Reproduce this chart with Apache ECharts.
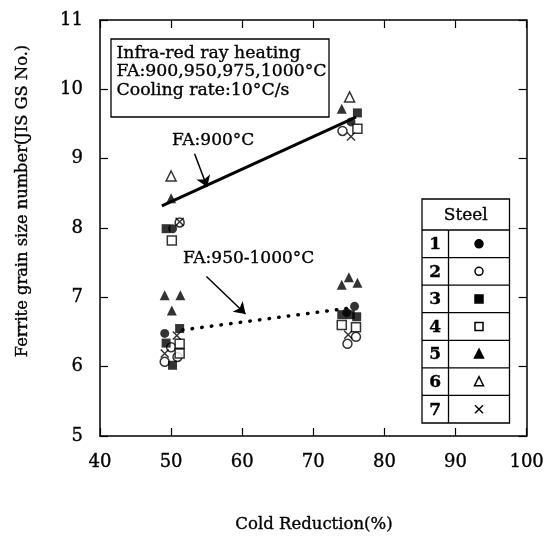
<!DOCTYPE html>
<html><head><meta charset="utf-8">
<script src="https://cdn.jsdelivr.net/npm/echarts@6/dist/echarts.min.js"></script>
<style>html,body{margin:0;padding:0;background:#fff}#c{width:547px;height:538px}</style>
</head><body><div id="c"></div>
<script>
// ---- data ----
var xTicks = [40, 50, 60, 70, 80, 90, 100];
var yTicks = [5, 6, 7, 8, 9, 10, 11];
var steelNames = ['1', '2', '3', '4', '5', '6', '7'];
var steel1 = [[50.2, 7.99], [75.3, 9.53], [49.1, 6.48], [75.8, 6.87], [74.7, 6.78]];
var steel2 = [[51.2, 8.08], [74.1, 9.40], [49.1, 6.07], [50.9, 6.14], [50.0, 6.28], [76.0, 6.43], [74.8, 6.33]];
var steel3 = [[49.3, 7.99], [76.2, 9.66], [51.2, 6.55], [49.3, 6.34], [50.2, 6.02], [74.0, 6.75], [75.2, 6.75], [76.1, 6.72]];
var steel4 = [[50.1, 7.82], [76.2, 9.43], [51.2, 6.33], [51.2, 6.19], [74.0, 6.60], [76.0, 6.57]];
var steel5 = [[50.0, 8.43], [74.0, 9.72], [49.1, 7.03], [51.3, 7.03], [50.1, 6.81], [74.0, 7.18], [75.0, 7.29], [76.2, 7.21]];
var steel6 = [[50.0, 8.75], [75.1, 9.89]];
var steel7 = [[51.2, 8.09], [75.3, 9.32], [49.1, 6.19], [50.8, 6.45], [74.9, 6.46]];
var fit900 = [[48.7, 8.32], [76.0, 9.60]];
var fit950 = [[51.6, 6.53], [75.5, 6.85]];
var arrow900 = [[53.3, 9.07], [55.07, 8.59]];
var arrow950 = [[54.97, 7.30], [60.47, 6.76]];
var boxLines = ['Infra-red ray heating', 'FA:900,950,975,1000°C', 'Cooling rate:10°C/s'];
var label900 = 'FA:900°C';
var label950 = 'FA:950-1000°C';
var xName = 'Cold Reduction(%)';
var yName = 'Ferrite grain size number(JIS GS No.)';

// ---- styles ----
var FONT = 'DejaVu Serif';
var THICK = 0.35;
var XPATH = 'path://M0,0L10,10M10,0L0,10';
var styles = [
  {symbol: 'circle', size: 9, fill: '#000'},
  {symbol: 'circle', size: 9, fill: '#fff'},
  {symbol: 'rect', size: 9, fill: '#000'},
  {symbol: 'rect', size: 9, fill: '#fff'},
  {symbol: 'triangle', size: 10, fill: '#000'},
  {symbol: 'triangle', size: 10, fill: '#fff'},
  {symbol: XPATH, size: 8, fill: 'none'}
];
var steelData = [steel1, steel2, steel3, steel4, steel5, steel6, steel7];

var chart = echarts.init(document.getElementById('c'), null, {renderer: 'canvas'});

var axisCommon = {
  axisLine: {show: true, lineStyle: {color: '#000', width: 1.5}},
  axisTick: {show: true, inside: true, length: 8, lineStyle: {color: '#000', width: 1.2}},
  splitLine: {show: false}
};
var labelCommon = {color: '#000', fontFamily: FONT, fontSize: 18, textBorderColor: '#000', textBorderWidth: THICK};

var series = [];
series.push({type: 'line', data: fit900, showSymbol: false, symbol: 'none', silent: true, z: 1,
  lineStyle: {color: '#000', width: 3}});
series.push({type: 'line', data: fit950, showSymbol: false, symbol: 'none', silent: true, z: 1,
  lineStyle: {color: '#000', width: 3.5, type: [0.5, 9.2], cap: 'round'}});
series.push({type: 'lines', coordinateSystem: 'cartesian2d', z: 1, silent: true,
  symbol: ['none', 'arrow'], symbolSize: 11,
  lineStyle: {color: '#000', width: 1.5, opacity: 1},
  data: [{coords: arrow900}, {coords: arrow950}]});
steelData.forEach(function (d, i) {
  var s = styles[i];
  series.push({type: 'scatter', name: steelNames[i], data: d, symbol: s.symbol, symbolSize: s.size, z: 3,
    itemStyle: {color: s.fill, borderColor: '#000', borderWidth: (s.fill === '#000' ? 0 : 1.5)}});
});

function txt(x, y, t, size, align, extra) {
  var o = {type: 'text', x: x, y: y, z: 11,
    style: {text: t, font: (extra && extra.bold ? 'bold ' : '') + size + 'px "' + FONT + '"', fill: '#000',
      align: align, verticalAlign: 'middle', stroke: '#000', lineWidth: THICK}};
  if (extra && extra.rotation) o.rotation = extra.rotation;
  return o;
}

// legend table graphic
var LX0 = 422, LX1 = 509.5, LXD = 448.5, LY0 = 199, LYH = 230, LY1 = 423;
var rowH = (LY1 - LYH) / steelNames.length;
var g = [];
g.push({type: 'rect', shape: {x: LX0, y: LY0, width: LX1 - LX0, height: LY1 - LY0},
  style: {fill: '#fff', stroke: '#000', lineWidth: 1.3}, z: 10});
g.push({type: 'line', shape: {x1: LX0, y1: LYH, x2: LX1, y2: LYH}, style: {stroke: '#000', lineWidth: 1.3}, z: 11});
g.push({type: 'line', shape: {x1: LXD, y1: LYH, x2: LXD, y2: LY1}, style: {stroke: '#000', lineWidth: 1.3}, z: 11});
g.push(txt((LX0 + LX1) / 2, (LY0 + LYH) / 2 + 1, 'Steel', 17, 'center'));
steelNames.forEach(function (n, i) {
  var yc = LYH + rowH * (i + 0.5);
  if (i > 0) g.push({type: 'line', shape: {x1: LX0, y1: LYH + rowH * i, x2: LX1, y2: LYH + rowH * i},
    style: {stroke: '#000', lineWidth: 1.3}, z: 11});
  g.push(txt((LX0 + LXD) / 2, yc + 1, n, 17, 'center', {bold: true}));
  var cx = 479, st = {fill: styles[i].fill === 'none' ? null : styles[i].fill, stroke: '#000', lineWidth: 1.5};
  var sym = styles[i].symbol;
  if (sym === 'circle') g.push({type: 'circle', shape: {cx: cx, cy: yc, r: 4}, style: st, z: 12});
  else if (sym === 'rect') g.push({type: 'rect', shape: {x: cx - 4, y: yc - 4, width: 8, height: 8}, style: st, z: 12});
  else if (sym === 'triangle') g.push({type: 'polygon', shape: {points: [[cx, yc - 5], [cx + 4.5, yc + 4], [cx - 4.5, yc + 4]]}, style: st, z: 12});
  else {
    g.push({type: 'line', z: 12, shape: {x1: cx - 4, y1: yc - 4, x2: cx + 4, y2: yc + 4}, style: {stroke: '#000', lineWidth: 1.4}});
    g.push({type: 'line', z: 12, shape: {x1: cx + 4, y1: yc - 4, x2: cx - 4, y2: yc + 4}, style: {stroke: '#000', lineWidth: 1.4}});
  }
});
// info box
g.push({type: 'rect', shape: {x: 111, y: 39, width: 218, height: 78},
  style: {fill: '#fff', stroke: '#000', lineWidth: 1.3}, z: 10});
boxLines.forEach(function (t, i) {
  g.push(txt(116.5, 53.5 + i * 18.3, t, 17.3, 'left'));
});
g.push(txt(172, 141, label900, 17, 'left'));
g.push(txt(183, 259, label950, 17, 'left'));
g.push(txt(314, 525, xName, 16.5, 'center'));
g.push(txt(23, 201, yName, 16.3, 'center', {rotation: Math.PI / 2}));

chart.setOption({
  animation: false,
  backgroundColor: '#fff',
  grid: {left: 100, top: 20, width: 430, height: 416, containLabel: false},
  xAxis: [
    Object.assign({type: 'value', min: xTicks[0], max: xTicks[xTicks.length - 1], interval: 10, position: 'bottom',
      axisLabel: Object.assign({margin: 17}, labelCommon)}, axisCommon),
    Object.assign({type: 'value', min: xTicks[0], max: xTicks[xTicks.length - 1], interval: 10, position: 'top',
      axisLabel: {show: false}}, axisCommon)
  ],
  yAxis: [
    Object.assign({type: 'value', min: yTicks[0], max: yTicks[yTicks.length - 1], interval: 1, position: 'left',
      axisLabel: Object.assign({margin: 17}, labelCommon)}, axisCommon),
    Object.assign({type: 'value', min: yTicks[0], max: yTicks[yTicks.length - 1], interval: 1, position: 'right',
      axisLabel: {show: false}}, axisCommon)
  ],
  series: series,
  graphic: g
});
</script></body></html>
